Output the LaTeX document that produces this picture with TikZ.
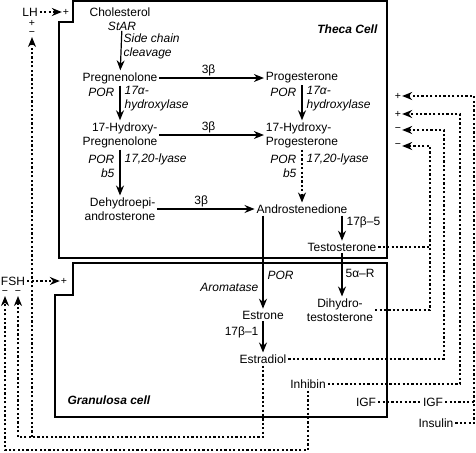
\documentclass[tikz,border=0pt]{standalone}
\usepackage{fontspec}
\setmainfont{Liberation Sans}
\usetikzlibrary{arrows.meta}

\tikzset{
    steroid/.style={inner sep=1.5pt, font=\fontsize{12}{14}\selectfont},
    enz/.style={inner sep=0pt, font=\fontsize{12}{14}\selectfont\itshape},
    sign/.style={inner sep=0.5pt, font=\fontsize{10.5}{12}\selectfont},
    cellname/.style={inner sep=0pt, font=\fontsize{12}{14}\selectfont\bfseries\itshape},
    fb/.style={dash pattern=on 2.2pt off 2.2pt},
    cellwall/.style={line width=1.5pt}
}

\begin{document}
\begin{tikzpicture}[x=1pt, y=-1pt, >={Stealth[length=10pt, width=8pt]}, line width=1.2pt]
    \useasboundingbox (0,0) rectangle (476,452);

    \draw[cellwall] (73,1) -- (387,1) -- (387,258) -- (59,258) -- (59,22) -- (73,22) -- cycle;
    \draw[cellwall] (73,263) -- (387,263) -- (387,417) -- (55,417) -- (55,295) -- (73,295) -- cycle;
    \node (theca) [cellname, anchor=east] at (378,29) {Theca Cell};
    \node (granulosa) [cellname, anchor=west] at (67,400) {Granulosa cell};

    \node (chol) [steroid] at (120,12) {Cholesterol};
    \node (star) [enz] at (122,26) {StAR};
    \node (preg) [steroid] at (120,78) {Pregnenolone};
    \node (prog) [steroid] at (302,78) {Progesterone};
    \node (ohpreg) [steroid, align=right] at (120,135) {17-Hydroxy-\\Pregnenolone};
    \node (ohprog) [steroid, align=left] at (302,135) {17-Hydroxy-\\Progesterone};
    \node (dhea) [steroid, align=right] at (120,209) {Dehydroepi-\\androsterone};
    \node (andro) [steroid] at (302,209) {Androstenedione};
    \node (testo) [steroid] at (342,247) {Testosterone};
    \node (dht) [steroid, align=center] at (340,310) {Dihydro-\\testosterone};
    \node (estrone) [steroid] at (263,315) {Estrone};
    \node (estradiol) [steroid] at (263,359) {Estradiol};
    \node (inhibin) [steroid] at (308,384) {Inhibin};
    \node (igfin) [steroid] at (366,402) {IGF};
    \node (igfout) [steroid] at (433,402) {IGF};
    \node (insulin) [steroid] at (436,423) {Insulin};

    \node (scc) [enz, anchor=west, align=left] at (123,46) {Side chain\\cleavage};
    \node (por1) [enz, anchor=east] at (115,92) {POR};
    \node (hyd1) [enz, anchor=west, align=left] at (124,99) {17α-\\hydroxylase};
    \node (por2) [enz, anchor=east, align=right] at (115,166) {POR\\b5};
    \node (lyase1) [enz, anchor=west] at (124,159) {17,20-lyase};
    \node (por3) [enz, anchor=east] at (297,92) {POR};
    \node (hyd2) [enz, anchor=west, align=left] at (306,99) {17α-\\hydroxylase};
    \node (por4) [enz, anchor=east, align=right] at (297,166) {POR\\b5};
    \node (lyase2) [enz, anchor=west] at (306,159) {17,20-lyase};
    \node (arom) [enz, anchor=east] at (259,287) {Aromatase};
    \node (por5) [enz, anchor=west] at (267,275) {POR};
    \node (hsd5) [steroid, anchor=west, inner sep=0pt] at (346,222) {17β–5};
    \node (red5) [steroid, anchor=west, inner sep=0pt] at (345,273) {5α–R};
    \node (hsd1) [steroid, anchor=east, inner sep=0pt] at (259,332) {17β–1};

    \draw[->] (star) -- (preg);
    \draw[->] (preg) -- (ohpreg);
    \draw[->] (ohpreg) -- (dhea);
    \draw[->] (prog) -- (ohprog);
    \draw[->, fb] (ohprog) -- (andro);
    \draw[->] (preg) -- node (hsdA) [steroid, above, pos=0.47] {3β} (prog);
    \draw[->] (ohpreg) -- node (hsdB) [steroid, above, pos=0.47] {3β} (ohprog);
    \draw[->] (dhea) -- node (hsdC) [steroid, above, pos=0.45] {3β} (andro);
    \draw[->] (andro.south -| estrone) -- (estrone);
    \draw[->] (andro.south -| testo) -- (testo);
    \draw[->] (testo) -- (testo |- dht.north);
    \draw[->] (estrone) -- (estradiol);

    \node (lh) [steroid] at (30,12) {LH};
    \node (lhplus) [sign] at (66,12) {+};
    \node (lhp) [sign] at (32,23) {+};
    \node (lhm) [sign] at (32,34) {−};
    \node (fsh) [steroid] at (13,281) {FSH};
    \node (fshplus) [sign] at (64,281) {+};
    \node (fshmA) [sign] at (5,293) {−};
    \node (fshmB) [sign] at (18,293) {−};
    \draw[fb, ->] (lh) -- (lhplus);
    \draw[fb, ->] (fsh) -- (fshplus);

    \node (insp) [sign] at (398,96) {+};
    \node (inhp) [sign] at (398,114) {+};
    \node (e2m) [sign] at (398,130) {−};
    \node (tm) [sign] at (398,146) {−};

    \coordinate (railA) at (474,0);
    \coordinate (railB) at (460,0);
    \coordinate (railC) at (444,0);
    \coordinate (railD) at (430,0);
    \coordinate (lowE) at (0,437);
    \coordinate (lowI) at (0,450);

    \draw[fb, ->] (insulin) -- (insulin -| railA) -- (railA |- insp) -- (insp);
    \draw[fb] (igfin) -- (igfout);
    \draw[fb] (igfout) -- (igfout -| railA);
    \draw[fb, ->] (inhibin) -- (inhibin -| railB) -- (railB |- inhp) -- (inhp);
    \draw[fb, ->] (estradiol) -- (estradiol -| railC) -- (railC |- e2m) -- (e2m);
    \draw[fb] (testo) -- (testo -| railD);
    \draw[fb, ->] (dht) -- (dht -| railD) -- (railD |- tm) -- (tm);

    \draw[fb, ->] (estradiol) -- (estradiol |- lowE) -- (lowE -| fshmB) -- (fshmB);
    \draw[fb, ->] (lhm |- lowE) -- (lhm);
    \draw[fb, ->] (inhibin) -- (inhibin |- lowI) -- (lowI -| fshmA) -- (fshmA);
\end{tikzpicture}
\end{document}
